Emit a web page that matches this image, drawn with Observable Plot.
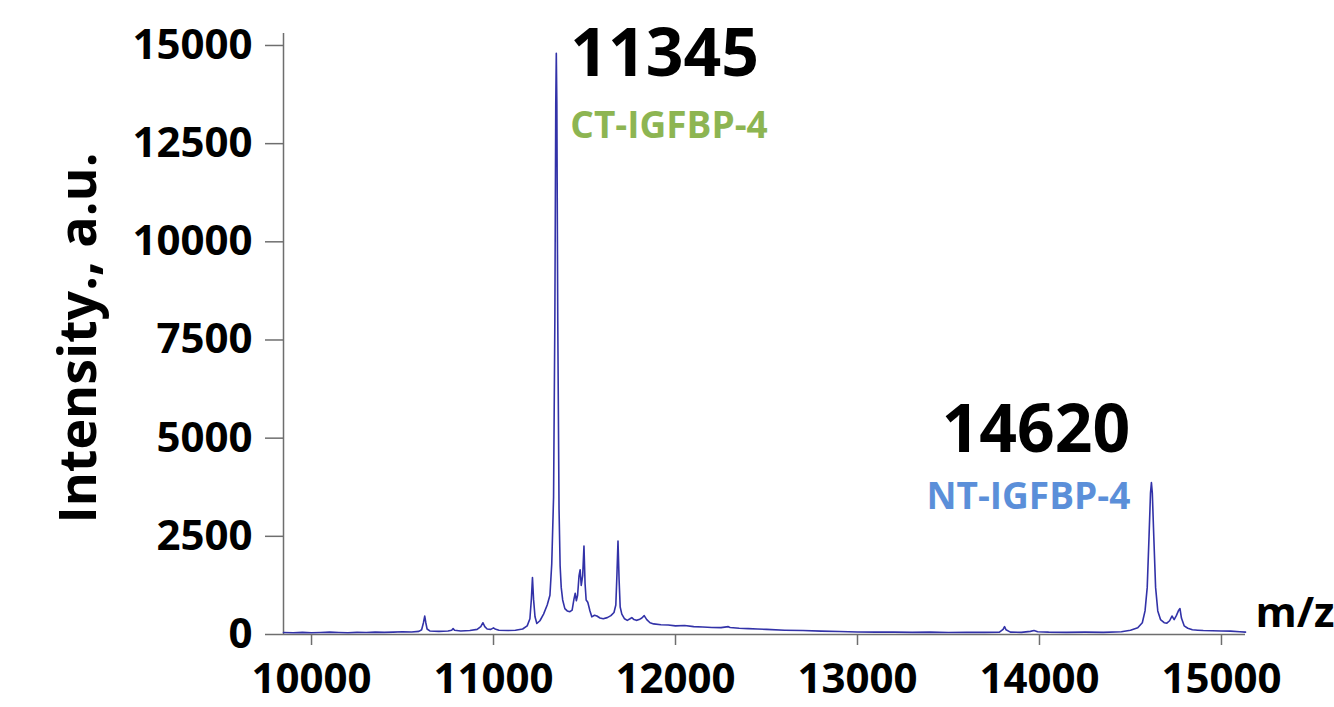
<!DOCTYPE html>
<html><head><meta charset="utf-8">
<script src="https://cdn.jsdelivr.net/npm/d3@7"></script>
<script src="https://cdn.jsdelivr.net/npm/@observablehq/plot@0.6"></script>
<style>html,body{margin:0;padding:0;background:#fff;} #chart svg{display:block}</style>
</head><body><div id="chart"></div>
<script>
const mz = [9846,9900,9950,10000,10050,10100,10150,10200,10250,10300,10350,10400,10450,10500,10550,10590,10605,10615,10622,10628,10635,10650,10700,10750,10770,10778,10786,10820,10870,10910,10930,10942,10952,10965,10985,11000,11008,11030,11080,11120,11160,11185,11200,11208,11214,11220,11228,11238,11255,11275,11295,11310,11320,11330,11337,11342,11345,11348,11353,11360,11366,11372,11380,11392,11405,11420,11432,11442,11449,11455,11462,11470,11476,11482,11490,11497,11503,11509,11518,11530,11540,11555,11568,11585,11603,11625,11645,11662,11672,11678,11684,11690,11696,11705,11720,11735,11750,11760,11772,11785,11800,11815,11828,11835,11842,11860,11880,11920,11960,12000,12050,12100,12150,12200,12250,12290,12300,12350,12400,12450,12500,12600,12700,12800,12900,13000,13100,13200,13300,13400,13500,13600,13700,13780,13800,13808,13816,13840,13900,13950,13970,13990,14050,14150,14250,14350,14450,14500,14540,14565,14580,14592,14602,14610,14615,14620,14628,14638,14650,14665,14685,14700,14715,14728,14740,14752,14765,14772,14780,14795,14815,14840,14870,14900,14950,15000,15050,15100,15132];
const intensity = [50,45,55,45,50,60,50,45,55,50,60,55,60,70,65,80,120,300,470,300,140,90,80,90,110,150,110,90,100,130,200,300,200,140,130,170,140,110,100,110,140,220,400,900,1450,900,450,280,350,520,750,1000,1800,3500,8000,13500,14800,13500,8000,3200,1750,1200,880,660,600,580,620,900,1050,860,1000,1500,1650,1250,1500,2250,1300,880,820,600,450,490,470,420,400,430,480,560,750,1500,2380,1400,700,520,400,360,400,430,380,360,380,420,480,430,380,300,270,250,240,220,230,200,190,180,175,200,180,160,150,140,130,110,100,85,75,65,60,60,55,60,50,55,55,60,130,200,120,60,55,80,100,70,60,55,60,55,70,110,170,300,600,1200,2500,3600,3870,3600,2500,1200,600,380,300,290,350,470,380,480,620,660,420,220,160,120,110,100,95,90,85,70,60];

const xTicks = [10000, 11000, 12000, 13000, 14000, 15000];
const yTicks = [0, 2500, 5000, 7500, 10000, 12500, 15000];
const xDomain = [9846, 15132];
const yDomain = [0, 15305];
const peakMz = [11345, 14620];
const peakIntensity = [14800, 3870];
const peakLabels = ["11345", "14620"];
const peakNames = ["CT-IGFBP-4", "NT-IGFBP-4"];
const nameColors = ["#8db552", "#5b8fd9"];
const yLabel = "Intensity., a.u.";
const xLabel = "m/z";

const spectrum = mz.map((m, i) => ({mz: m, intensity: intensity[i]}));
const peaks = peakMz.map((m, i) => ({mz: m, intensity: peakIntensity[i], label: peakLabels[i], name: peakNames[i], color: nameColors[i]}));

const axisGray = "#6e6e6e";
const chart = Plot.plot({
  width: 1334, height: 707,
  marginLeft: 283, marginRight: 89, marginTop: 33, marginBottom: 73,
  style: {fontFamily: "'Open Sans', sans-serif", fontWeight: 700, background: "#fff", color: "#000", overflow: "visible"},
  x: {domain: xDomain},
  y: {domain: yDomain},
  marks: [
    Plot.ruleX([xDomain[0]], {stroke: axisGray, strokeWidth: 1.5}),
    Plot.ruleY([0], {stroke: axisGray, strokeWidth: 1.5}),
    Plot.axisX(xTicks, {tickSize: 11, tickPadding: 18, fontSize: 42, stroke: axisGray, color: "#000", strokeWidth: 1.5, tickFormat: d => String(d), label: null}),
    Plot.axisY(yTicks, {tickSize: 18, tickPadding: 13, fontSize: 42, stroke: axisGray, color: "#000", strokeWidth: 1.5, tickFormat: d => String(d), label: null}),
    Plot.line(spectrum, {x: "mz", y: "intensity", stroke: "#3232a8", strokeWidth: 1.6}),
    Plot.text(peaks.slice(0, 1), {x: "mz", y: "intensity", text: "label", textAnchor: "start", dx: 14, dy: 2, fontSize: 66, fill: "#000"}),
    Plot.text(peaks.slice(0, 1), {x: "mz", y: "intensity", text: "name", textAnchor: "start", dx: 14, dy: 73, fontSize: 37, fill: "color"}),
    Plot.text(peaks.slice(1, 2), {x: "mz", y: "intensity", text: "label", textAnchor: "end", dx: -22, dy: -52, fontSize: 66, fill: "#000"}),
    Plot.text(peaks.slice(1, 2), {x: "mz", y: "intensity", text: "name", textAnchor: "end", dx: -22, dy: 15, fontSize: 37, fill: "color"}),
    Plot.text([yLabel], {frameAnchor: "left", text: d => d, textAnchor: "middle", rotate: -90, dx: -204, dy: 4, fontSize: 52, fill: "#000"}),
    Plot.text([xLabel], {frameAnchor: "bottom-right", text: d => d, textAnchor: "start", dx: 10, dy: -8, fontSize: 42, fill: "#000"})
  ]
});
document.getElementById("chart").appendChild(chart);
</script>
</body></html>
